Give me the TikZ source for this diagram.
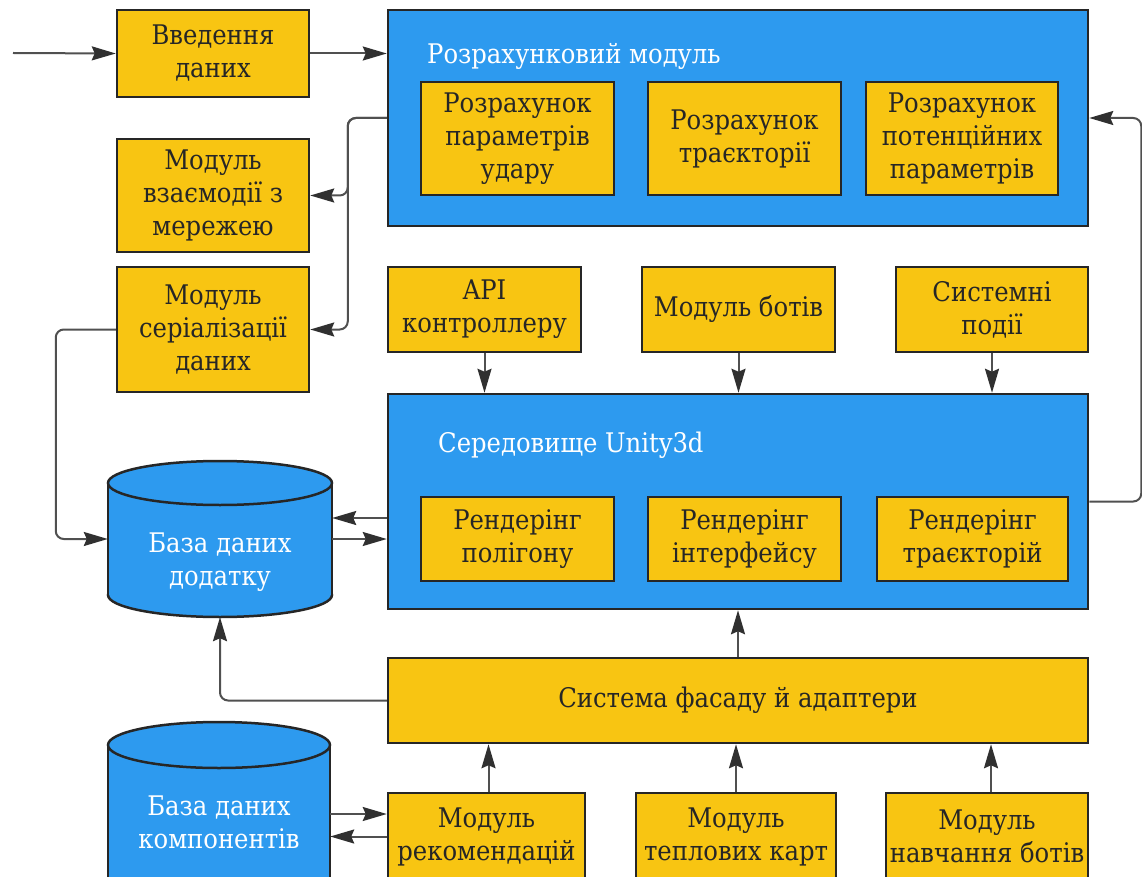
\documentclass[tikz,border=0pt]{standalone}
\usepackage{fontspec}
\setmainfont{DejaVu Serif Condensed}
\usetikzlibrary{arrows.meta}
\definecolor{ylw}{HTML}{F8C512}
\definecolor{blu}{HTML}{2D9AEF}
\definecolor{edgec}{HTML}{262626}
\definecolor{conn}{HTML}{505050}
\definecolor{headc}{HTML}{303030}
\tikzset{
 box/.style={draw=edgec, line width=2.5pt, fill=ylw, text=edgec, align=center, inner sep=0pt, font=\fontsize{27}{33}\selectfont},
 bigbox/.style={draw=edgec, line width=2.5pt, fill=blu, inner sep=0pt},
 ttl/.style={text=white, anchor=west, inner sep=0pt, font=\fontsize{27}{33}\selectfont},
 dbtext/.style={text=white, align=center, inner sep=0pt, font=\fontsize{27}{33}\selectfont},
 dbbody/.style={fill=blu},
 dbline/.style={draw=edgec, line width=2.5pt},
 con/.style={draw=conn, line width=2pt, -{Stealth[length=24pt,width=14pt,inset=3pt,color=headc]}, rounded corners=8pt},
}
\begin{document}
\begin{tikzpicture}[x=1pt,y=-1pt]
\useasboundingbox (0,0) rectangle (1142,877);
\clip (0,0) rectangle (1142,877);
\fill[white] (0,0) rectangle (1142,877);

\node[box, minimum width=192, minimum height=87] (intro) at (213,53.5) {Введення\\даних};
\node[box, minimum width=192, minimum height=113] (net) at (213,195.5) {Модуль\\взаємодії з\\мережею};
\node[box, minimum width=192, minimum height=125] (ser) at (213,329.5) {Модуль\\серіалізації\\даних};

\node[bigbox, minimum width=700, minimum height=216] (calc) at (738,118) {};
\node[ttl] (calct) at (427,56) {Розрахунковий модуль};
\node[box, minimum width=193, minimum height=113] (c1) at (517.5,138.5) {Розрахунок\\параметрів\\удару};
\node[box, minimum width=193, minimum height=113] (c2) at (744.5,138.5) {Розрахунок\\траєкторії};
\node[box, minimum width=192, minimum height=113] (c3) at (962,138.5) {Розрахунок\\потенційних\\параметрів};

\node[box, minimum width=193, minimum height=85] (api) at (484.5,309.5) {API\\контроллеру};
\node[box, minimum width=193, minimum height=85] (bots) at (738.5,309.5) {Модуль ботів};
\node[box, minimum width=192, minimum height=85] (sys) at (992,309.5) {Системні\\події};

\node[bigbox, minimum width=700, minimum height=215] (unity) at (738,501.5) {};
\node[ttl] (unityt) at (438,445) {Середовище Unity3d};
\node[box, minimum width=193, minimum height=84] (r1) at (517.5,539) {Рендерінг\\полігону};
\node[box, minimum width=193, minimum height=84] (r2) at (744.5,539) {Рендерінг\\інтерфейсу};
\node[box, minimum width=191, minimum height=84] (r3) at (972.5,539) {Рендерінг\\траєкторій};

\node[box, minimum width=700, minimum height=85] (facade) at (738,700.5) {Система фасаду й адаптери};

\node[box, minimum width=197, minimum height=87] (m1) at (486.5,836.5) {Модуль\\рекомендацій};
\node[box, minimum width=200, minimum height=87] (m2) at (736,836.5) {Модуль\\теплових карт};
\node[box, minimum width=202, minimum height=87] (m3) at (987,836.5) {Модуль\\навчання ботів};

\path[dbline, dbbody] (220,595) ellipse [x radius=112pt, y radius=22pt];
\fill[blu] (108,483) rectangle (332,595);
\draw[dbline] (108,483) -- (108,595) (332,483) -- (332,595);
\path[dbline, dbbody] (220,483) ellipse [x radius=112pt, y radius=22pt];
\node[minimum width=224, minimum height=156, inner sep=0pt] (db1) at (220,539) {};
\node[dbtext] (db1t) at (220,562) {База даних\\додатку};

\path[dbline, dbbody] (219,905) ellipse [x radius=111pt, y radius=23pt];
\fill[blu] (108,745) rectangle (330,905);
\draw[dbline] (108,745) -- (108,905) (330,745) -- (330,905);
\path[dbline, dbbody] (219,745) ellipse [x radius=111pt, y radius=23pt];
\node[minimum width=222, minimum height=180, inner sep=0pt] (db2) at (219,812) {};
\node[dbtext] (db2t) at (219,822) {База даних\\компонентів};

\coordinate (in0) at (13,53);
\draw[con] (in0) -- (intro.west);
\draw[con] (intro.east) -- (intro.east -| calc.west);
\draw[con] (calc.west) -- ++(-39,0) |- (net.east);
\draw[con] (calc.west) -- ++(-39,0) |- (ser.east);
\draw[con] (ser.west) -- ++(-60,0) |- (db1.west);
\draw[con] ([yshift=-16.5pt]unity.west) -- ([yshift=-16.5pt]unity.west -| db1.east);
\draw[con] ([yshift=-37.5pt]unity.west -| db1.east) -- ([yshift=-37.5pt]unity.west);
\draw[con] (unity.east) -- ++(52,0) |- (calc.east);
\draw[con] (facade.west) -| (db1.south);
\draw[con] (facade.north) -- (unity.south);
\draw[con] (api.south) -- (api.south |- unity.north);
\draw[con] (bots.south) -- (bots.south |- unity.north);
\draw[con] (sys.south) -- (sys.south |- unity.north);
\draw[con] ([xshift=2pt]m1.north) -- ([xshift=2pt]m1.north |- facade.south);
\draw[con] (m2.north) -- (m2.north |- facade.south);
\draw[con] ([xshift=4pt]m3.north) -- ([xshift=4pt]m3.north |- facade.south);
\draw[con] ([yshift=22.5pt]m1.west -| db2.east) -- ([yshift=22.5pt]m1.west);
\draw[con] (m1.west) -- (m1.west -| db2.east);
\end{tikzpicture}
\end{document}
